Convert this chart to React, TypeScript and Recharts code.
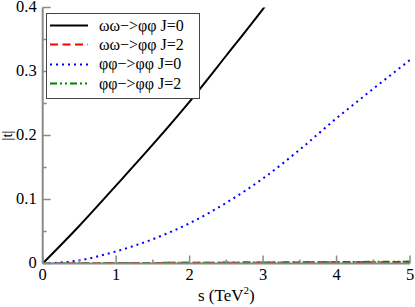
import React from 'react';
import { LineChart, Line, XAxis, YAxis, Legend } from 'recharts';

// ---- data ----
const sValues = [0, 0.5, 1, 1.5, 2, 2.5, 3, 3.5, 4, 4.5, 5];
const omegaToPhiJ0 = [0, 0.059, 0.122, 0.186, 0.253, 0.325, 0.398, 0.475, 0.555, 0.64, 0.725];
const omegaToPhiJ2 = [0, 0.0004, 0.0007, 0.0009, 0.0011, 0.0013, 0.0015, 0.0017, 0.0019, 0.0021, 0.0023];
const phiToPhiJ0 = [0, 0.005, 0.019, 0.038, 0.063, 0.095, 0.133, 0.178, 0.227, 0.273, 0.318];
const phiToPhiJ2 = [0, 0.0003, 0.0006, 0.0009, 0.0012, 0.0014, 0.0016, 0.0019, 0.0022, 0.0026, 0.003];
const seriesNames = ['ωω−>φφ J=0', 'ωω−>φφ J=2', 'φφ−>φφ J=0', 'φφ−>φφ J=2'];
const xTicks = [0, 0.5, 1, 1.5, 2, 2.5, 3, 3.5, 4, 4.5, 5];
const yTicks = [0, 0.05, 0.1, 0.15, 0.2, 0.25, 0.3, 0.35, 0.4];
const xLabel = 's (TeV';
const yLabel = '|t|';

// ---- styles ----
const seriesKeys = ['wwJ0', 'wwJ2', 'ppJ0', 'ppJ2'];
const seriesColors = ['#000000', '#ff0000', '#0000ff', '#008000'];
const seriesDash = ['', '8 4.5', '2 4', '7 3 2 3 2 3'];
const AXIS = '#8a8a8a';
const FONT = 'Liberation Serif, Times New Roman, DejaVu Serif, serif';
const TICK_FS = 16.5;

const rows = sValues.map((s, i) => ({
  s,
  wwJ0: omegaToPhiJ0[i],
  wwJ2: omegaToPhiJ2[i],
  ppJ0: phiToPhiJ0[i],
  ppJ2: phiToPhiJ2[i],
}));

const isMajorX = (v: number) => Math.abs(v - Math.round(v)) < 1e-6;
const isMajorY = (v: number) => Math.abs(v * 10 - Math.round(v * 10)) < 1e-6;
const fmtY = (v: number) => (v === 0 ? '0' : v.toFixed(1));

const textStyle = { fontFamily: FONT };

const BottomTick = (props: any) => {
  const { x, y, payload } = props;
  const major = isMajorX(payload.value);
  return (
    <g>
      <line x1={x} x2={x} y1={y} y2={y - (major ? 8 : 4)} stroke={AXIS} strokeWidth={1.5} />
      {major && (
        <text x={x} y={y + 16.5} textAnchor="middle" fontSize={TICK_FS} style={textStyle} fill="#000">
          {payload.value}
        </text>
      )}
    </g>
  );
};

const TopTick = (props: any) => {
  const { x, y, payload } = props;
  const major = isMajorX(payload.value);
  return <line x1={x} x2={x} y1={y} y2={y + (major ? 8 : 4)} stroke={AXIS} strokeWidth={1.5} />;
};

const LeftTick = (props: any) => {
  const { x, y, payload } = props;
  const major = isMajorY(payload.value);
  return (
    <g>
      <line x1={x} x2={x + (major ? 8 : 4)} y1={y} y2={y} stroke={AXIS} strokeWidth={1.5} />
      {major && (
        <text x={x - 6} y={y + 4.5} textAnchor="end" fontSize={TICK_FS} style={textStyle} fill="#000">
          {fmtY(payload.value)}
        </text>
      )}
    </g>
  );
};

const RightTick = (props: any) => {
  const { x, y, payload } = props;
  const major = isMajorY(payload.value);
  return <line x1={x} x2={x - (major ? 8 : 4)} y1={y} y2={y} stroke={AXIS} strokeWidth={1.5} />;
};

const XLabel = (props: any) => {
  const vb = props.viewBox;
  return (
    <text x={vb.x + vb.width / 2} y={vb.y + 37} textAnchor="middle" fontSize={17} style={textStyle} fill="#000">
      {xLabel}
      <tspan fontSize={11} dy={-7}>2</tspan>
      <tspan dy={7}>)</tspan>
    </text>
  );
};

const YLabel = (props: any) => {
  const vb = props.viewBox;
  const cx = vb.x + vb.width - 31;
  const cy = vb.y + vb.height / 2;
  return (
    <text x={cx} y={cy} transform={`rotate(-90 ${cx} ${cy})`} textAnchor="middle" fontSize={15} style={textStyle} fill="#000">
      {yLabel}
    </text>
  );
};

const LegendBox = () => (
  <div
    style={{
      width: 152,
      height: 82,
      border: '1px solid #444',
      background: '#fff',
      boxSizing: 'content-box',
      paddingTop: 2,
    }}
  >
    {seriesNames.map((name, i) => (
      <div key={name} style={{ height: 19.3, display: 'flex', alignItems: 'center' }}>
        <svg width={50} height={19} style={{ flex: 'none' }}>
          <line
            x1={3}
            x2={41}
            y1={9.5}
            y2={9.5}
            stroke={seriesColors[i]}
            strokeWidth={2}
            strokeDasharray={seriesDash[i] || undefined}
          />
        </svg>
        <span style={{ fontFamily: FONT, fontSize: 16, color: '#000', marginLeft: 2, whiteSpace: 'nowrap' }}>
          {name}
        </span>
      </div>
    ))}
  </div>
);

export default function App() {
  return (
    <div style={{ position: 'absolute', left: 0, top: 0, fontFamily: FONT }}>
      <LineChart width={415} height={307} data={rows} margin={{ top: 7.5, right: 5, bottom: 0, left: 0 }} style={{ fontFamily: FONT }}>
        <XAxis
          dataKey="s"
          type="number"
          domain={[0, 5]}
          ticks={xTicks}
          interval={0}
          height={43.5}
          tickSize={0}
          tickMargin={0}
          tickLine={false}
          tick={<BottomTick />}
          axisLine={{ stroke: AXIS, strokeWidth: 2 }}
          allowDataOverflow
          label={<XLabel />}
        />
        <XAxis
          xAxisId="top"
          orientation="top"
          dataKey="s"
          type="number"
          domain={[0, 5]}
          ticks={xTicks}
          interval={0}
          height={0}
          tickSize={0}
          tickMargin={0}
          tickLine={false}
          tick={<TopTick />}
          axisLine={{ stroke: AXIS, strokeWidth: 2 }}
          allowDataOverflow
        />
        <YAxis
          type="number"
          domain={[0, 0.4]}
          ticks={yTicks}
          interval={0}
          width={42.7}
          tickSize={0}
          tickMargin={0}
          tickLine={false}
          tick={<LeftTick />}
          axisLine={{ stroke: AXIS, strokeWidth: 2 }}
          allowDataOverflow
          label={<YLabel />}
        />
        <YAxis
          yAxisId="right"
          orientation="right"
          type="number"
          domain={[0, 0.4]}
          ticks={yTicks}
          interval={0}
          width={0}
          tickSize={0}
          tickMargin={0}
          tickLine={false}
          tick={<RightTick />}
          axisLine={{ stroke: AXIS, strokeWidth: 2 }}
          allowDataOverflow
        />
        {seriesKeys.map((k, i) => (
          <Line
            key={k}
            dataKey={k}
            name={seriesNames[i]}
            type="monotone"
            stroke={seriesColors[i]}
            strokeWidth={2}
            strokeDasharray={seriesDash[i] || undefined}
            dot={false}
            activeDot={false}
            isAnimationActive={false}
          />
        ))}
        <Legend
          layout="vertical"
          align="center"
          verticalAlign="middle"
          wrapperStyle={{ left: 46, top: 13 }}
          content={() => <LegendBox />}
        />
      </LineChart>
    </div>
  );
}
